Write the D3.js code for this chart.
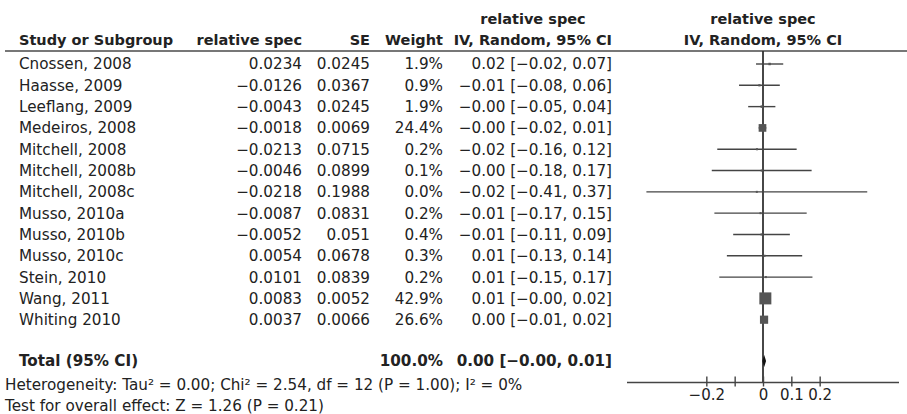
<!DOCTYPE html>
<html>
<head>
<meta charset="utf-8">
<script src="https://cdn.jsdelivr.net/npm/d3@7"></script>
<style>
  body { margin: 0; background: #fff; }
  text { font-family: "DejaVu Sans", Verdana, sans-serif; fill: #222; }
</style>
</head>
<body>
<svg width="907" height="414"></svg>
<script>
// study data
var studies = ["Cnossen, 2008", "Haasse, 2009", "Leeflang, 2009", "Medeiros, 2008", "Mitchell, 2008",
  "Mitchell, 2008b", "Mitchell, 2008c", "Musso, 2010a", "Musso, 2010b", "Musso, 2010c",
  "Stein, 2010", "Wang, 2011", "Whiting 2010"];
var estimate = [0.0234, -0.0126, -0.0043, -0.0018, -0.0213, -0.0046, -0.0218, -0.0087, -0.0052, 0.0054, 0.0101, 0.0083, 0.0037];
var estLabels = ["0.0234", "\u22120.0126", "\u22120.0043", "\u22120.0018", "\u22120.0213", "\u22120.0046", "\u22120.0218",
  "\u22120.0087", "\u22120.0052", "0.0054", "0.0101", "0.0083", "0.0037"];
var seLabels = ["0.0245", "0.0367", "0.0245", "0.0069", "0.0715", "0.0899", "0.1988", "0.0831", "0.051", "0.0678", "0.0839", "0.0052", "0.0066"];
var weight = [1.9, 0.9, 1.9, 24.4, 0.2, 0.1, 0.0, 0.2, 0.4, 0.3, 0.2, 42.9, 26.6];
var ciLow = [-0.0246, -0.0845, -0.0523, -0.0153, -0.1614, -0.1808, -0.4115, -0.1716, -0.1052, -0.1275, -0.1543, -0.0019, -0.0092];
var ciHigh = [0.0714, 0.0593, 0.0437, 0.0117, 0.1188, 0.1716, 0.3679, 0.1542, 0.0948, 0.1383, 0.1745, 0.0185, 0.0166];
var ciLabels = ["0.02 [\u22120.02, 0.07]", "\u22120.01 [\u22120.08, 0.06]", "\u22120.00 [\u22120.05, 0.04]", "\u22120.00 [\u22120.02, 0.01]",
  "\u22120.02 [\u22120.16, 0.12]", "\u22120.00 [\u22120.18, 0.17]", "\u22120.02 [\u22120.41, 0.37]", "\u22120.01 [\u22120.17, 0.15]",
  "\u22120.01 [\u22120.11, 0.09]", "0.01 [\u22120.13, 0.14]", "0.01 [\u22120.15, 0.17]", "0.01 [\u22120.00, 0.02]", "0.00 [\u22120.01, 0.02]"];

var total = { est: 0.0042, low: -0.0023, high: 0.0107, weight: "100.0%", label: "0.00 [\u22120.00, 0.01]" };
var heterogeneity = "Heterogeneity: Tau\u00b2 = 0.00; Chi\u00b2 = 2.54, df = 12 (P = 1.00); I\u00b2 = 0%";
var overall = "Test for overall effect: Z = 1.26 (P = 0.21)";
var tickValues = [-0.2, -0.1, 0, 0.1, 0.2];
var tickLabels = ["\u22120.2", "", "0", "0.1", "0.2"];

var svg = d3.select("svg"),
    width = +svg.attr("width"),
    fs = 15.2;

var x = d3.scaleLinear().domain([-0.48, 0.48]).range([627, 899]);
var y = d3.scalePoint().domain(studies).range([64, 319.7]);
var size = d3.scaleLinear().domain([0, 42.9]).range([2, 12]);

var col = { name: 19, est: 302, se: 370, weight: 443, ci: 612 };
var totalY = 361, axisY = 382.5;

// headers
var head = svg.append("g").style("font-weight", "bold").style("font-size", "14.5px");
head.append("text").attr("x", col.name).attr("y", 45).text("Study or Subgroup");
head.append("text").attr("x", col.est).attr("y", 45).attr("text-anchor", "end").text("relative spec");
head.append("text").attr("x", col.se).attr("y", 45).attr("text-anchor", "end").text("SE");
head.append("text").attr("x", col.weight).attr("y", 45).attr("text-anchor", "end").text("Weight");
head.append("text").attr("x", 533).attr("y", 24).attr("text-anchor", "middle").text("relative spec");
head.append("text").attr("x", col.ci).attr("y", 45).attr("text-anchor", "end").text("IV, Random, 95% CI");
head.append("text").attr("x", x(0)).attr("y", 24).attr("text-anchor", "middle").text("relative spec");
head.append("text").attr("x", x(0)).attr("y", 45).attr("text-anchor", "middle").text("IV, Random, 95% CI");

svg.append("line")
    .attr("x1", 5).attr("x2", width)
    .attr("y1", 51).attr("y2", 51)
    .attr("stroke", "#777").attr("stroke-width", 2);

// table rows
var rows = svg.append("g").style("font-size", fs + "px")
  .selectAll("g").data(studies).enter().append("g")
    .attr("transform", function(d) { return "translate(0," + y(d) + ")"; });

rows.append("text").attr("x", col.name).attr("dy", "0.36em").text(function(d) { return d; });
rows.append("text").attr("x", col.est).attr("dy", "0.36em").attr("text-anchor", "end")
    .text(function(d, i) { return estLabels[i]; });
rows.append("text").attr("x", col.se).attr("dy", "0.36em").attr("text-anchor", "end")
    .text(function(d, i) { return seLabels[i]; });
rows.append("text").attr("x", col.weight).attr("dy", "0.36em").attr("text-anchor", "end")
    .text(function(d, i) { return weight[i].toFixed(1) + "%"; });
rows.append("text").attr("x", col.ci).attr("dy", "0.36em").attr("text-anchor", "end")
    .text(function(d, i) { return ciLabels[i]; });

// total + footnotes
var tot = svg.append("g").style("font-size", fs + "px").style("font-weight", "bold");
tot.append("text").attr("x", col.name).attr("y", totalY).attr("dy", "0.36em").text("Total (95% CI)");
tot.append("text").attr("x", col.weight).attr("y", totalY).attr("dy", "0.36em").attr("text-anchor", "end").text(total.weight);
tot.append("text").attr("x", col.ci).attr("y", totalY).attr("dy", "0.36em").attr("text-anchor", "end").text(total.label);

svg.append("text").style("font-size", fs + "px").attr("x", 5).attr("y", 385).attr("dy", "0.36em").text(heterogeneity);
svg.append("text").style("font-size", fs + "px").attr("x", 5).attr("y", 406).attr("dy", "0.36em").text(overall);

// plot
var plot = svg.append("g");

plot.append("line")
    .attr("x1", x(0)).attr("x2", x(0))
    .attr("y1", 51).attr("y2", axisY)
    .attr("stroke", "#333").attr("stroke-width", 1.8);

plot.selectAll(".ci").data(studies).enter().append("line")
    .attr("class", "ci")
    .attr("x1", function(d, i) { return x(ciLow[i]); })
    .attr("x2", function(d, i) { return x(ciHigh[i]); })
    .attr("y1", function(d) { return y(d); })
    .attr("y2", function(d) { return y(d); })
    .attr("stroke", "#444").attr("stroke-width", 1.4);

plot.selectAll(".pt").data(studies).enter().append("rect")
    .attr("class", "pt")
    .attr("x", function(d, i) { return x(estimate[i]) - size(weight[i]) / 2; })
    .attr("y", function(d, i) { return y(d) - size(weight[i]) / 2; })
    .attr("width", function(d, i) { return size(weight[i]); })
    .attr("height", function(d, i) { return size(weight[i]); })
    .attr("fill", "#555");

plot.append("path")
    .attr("d", "M" + x(total.low) + "," + totalY +
               "L" + x(total.est) + "," + (totalY - 6) +
               "L" + x(total.high) + "," + totalY +
               "L" + x(total.est) + "," + (totalY + 6) + "Z")
    .attr("fill", "#111");

// axis
var axis = plot.append("g").attr("transform", "translate(0," + axisY + ")")
    .call(d3.axisBottom(x).tickValues(tickValues).tickSize(4)
      .tickFormat(function(d, i) { return tickLabels[i]; }));
axis.select(".domain").attr("d", "M" + x.range()[0] + ",0H" + x.range()[1]).attr("stroke", "#444").attr("stroke-width", 1.4);
axis.selectAll(".tick line").attr("y1", -6).attr("stroke", "#444").attr("stroke-width", 1.4);
axis.selectAll(".tick text").attr("y", 7).style("font-size", "15px")
    .style("font-family", "'DejaVu Sans', sans-serif").attr("fill", "#222");
</script>
</body>
</html>
